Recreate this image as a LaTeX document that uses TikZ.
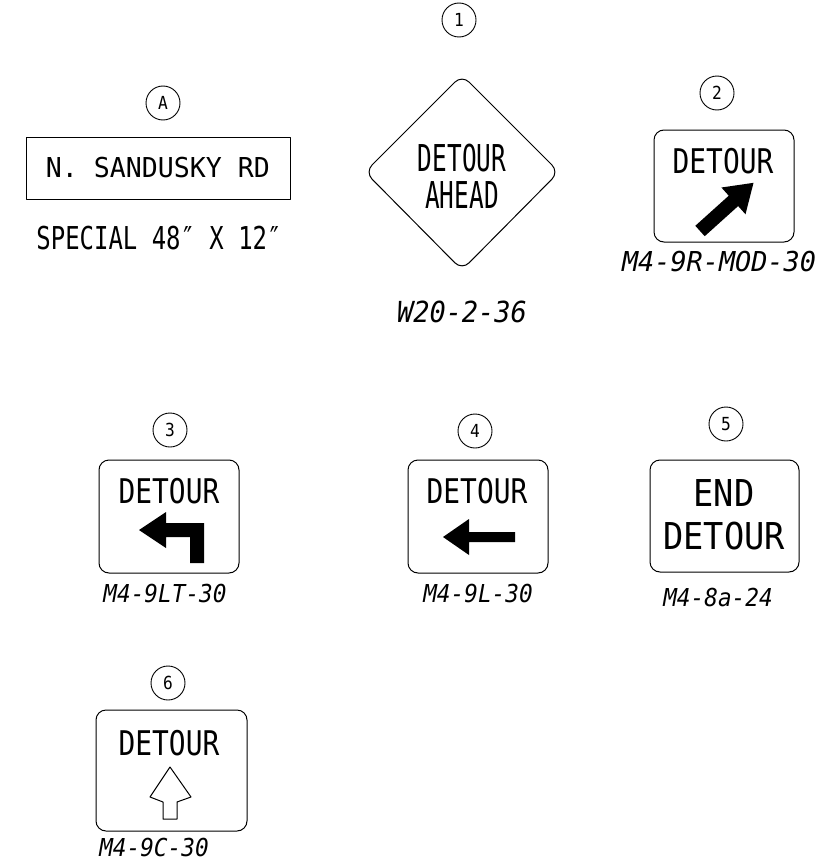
\documentclass[tikz,border=0pt]{standalone}
\usepackage{fontspec}
\usepackage{tikz}
\usetikzlibrary{positioning}
\newfontfamily\cad{DejaVu Sans Mono}
\newcommand\cadsize[2]{\cad\fontsize{#1}{#1}\selectfont\addfontfeature{FakeStretch=#2}}
\tikzset{
  tag/.style={circle,draw,line width=0.9pt,minimum size=34pt,inner sep=0pt,
    font=\cadsize{18}{0.9}},
  signbox/.style={draw,line width=1pt,rounded corners=10pt},
  legend/.style={inner sep=0pt,font=\cadsize{34}{0.82}},
  code/.style={inner sep=0pt,font=\cadsize{24.7}{0.92}\itshape}
}

\begin{document}
\begin{tikzpicture}[x=1pt,y=-1pt,line join=round]
  \useasboundingbox (0,0) rectangle (834,867);

  % A
  \node [tag] (tA) at (163,103) {A};
  \draw [line width=1pt] (26,137) rectangle (290,199);
  \node [inner sep=0pt,font=\cadsize{27.4}{0.97}] (roadname) at (158,168) {N. SANDUSKY RD};
  \node [inner sep=0pt,font=\cadsize{31.5}{0.76}] (special) at (159,238) {SPECIAL 48″ X 12″};

  % 1
  \node [tag] (t1) at (459,20) {1};
  \draw [line width=1pt,rounded corners=10pt] (462,75) -- (559,172) -- (462,270) -- (365,172) -- cycle;
  \node [inner sep=0pt,align=center,font=\cad\fontsize{37}{37}\selectfont\addfontfeature{FakeStretch=0.66}] (ahead) at (462,176) {DETOUR\\AHEAD};
  \node [code,font=\cadsize{29}{0.93}\itshape] (c1) at (462,312) {W20-2-36};

  % 2
  \node [tag] (t2) at (717,93) {2};
  \draw [signbox] (654,130) rectangle (794,242);
  \node [legend] (d2) at (723,161) {DETOUR};
  \begin{scope}[shift={(700,231)},rotate=42]
    \fill (0,-7) -- (45,-7) -- (45,-18) -- (72,0) -- (45,18) -- (45,7) -- (0,7) -- cycle;
  \end{scope}
  \node [code,font=\cadsize{27.4}{0.98}\itshape] (c2) at (719,262) {M4-9R-MOD-30};

  % 3
  \node [tag] (t3) at (170,430) {3};
  \draw [signbox] (99,460) rectangle (239,573);
  \node [legend] (d3) at (169,491) {DETOUR};
  \fill (204,563) -- (190,563) -- (190,537) -- (166,537) -- (166,548) -- (139,530)
    -- (166,512) -- (166,523) -- (204,523) -- cycle;
  \node [code] (c3) at (165,594) {M4-9LT-30};

  % 4
  \node [tag] (t4) at (475,431) {4};
  \draw [signbox] (408,460) rectangle (548,573);
  \node [legend] (d4) at (477,491) {DETOUR};
  \fill (443,537) -- (469,519) -- (469,532) -- (515,532) -- (515,542) -- (469,542)
    -- (469,555) -- cycle;
  \node [code] (c4) at (478,594) {M4-9L-30};

  % 5
  \node [tag] (t5) at (726,424) {5};
  \draw [signbox] (650,460) rectangle (799,572);
  \node [inner sep=0pt,align=center,font=\cad\fontsize{37}{43}\selectfont\addfontfeature{FakeStretch=0.91}] (d5) at (724,515) {END\\DETOUR};
  \node [code] (c5) at (718,598) {M4-8a-24};

  % 6
  \node [tag] (t6) at (168,683) {6};
  \draw [signbox] (96,710) rectangle (247,831);
  \node [legend] (d6) at (169,743) {DETOUR};
  \draw [line width=1pt] (170,767) -- (150,797) -- (163,802) -- (163,819) -- (177,819)
    -- (177,802) -- (191,797) -- cycle;
  \node [code] (c6) at (154,847) {M4-9C-30};

\end{tikzpicture}
\end{document}
